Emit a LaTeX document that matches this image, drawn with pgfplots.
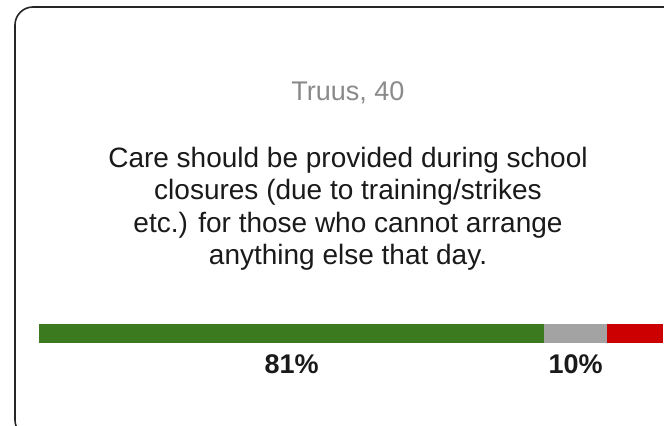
\documentclass[border=0pt]{standalone}
\usepackage{pgfplots}
\pgfplotsset{compat=1.18}
\usepackage{fontspec}
\setmainfont{Liberation Sans}
\definecolor{cgreen}{HTML}{3B7A1F}
\definecolor{cgray}{HTML}{A3A3A3}
\definecolor{cred}{HTML}{CC0000}
\definecolor{ctitle}{HTML}{8A8A8A}
\definecolor{ctext}{HTML}{1A1A1A}
\definecolor{cborder}{HTML}{262626}
\begin{document}
\begin{tikzpicture}[x=1bp,y=1bp]
\useasboundingbox (0,0) rectangle (664,425);
\clip (0,0) rectangle (664,425);
\fill[white] (0,0) rectangle (664,425);
\draw[line width=1.6bp, cborder, rounded corners=18bp] (15,418) rectangle (700,-13);
% title and statement
\node[anchor=base, inner sep=0pt, text=ctitle, font=\fontsize{27bp}{30bp}\selectfont] at (348,325) {Truus, 40};
\begin{scope}[every node/.style={anchor=base, inner sep=0pt, text=ctext, font=\fontsize{28bp}{32bp}\selectfont}]
\node at (348,258) {Care should be provided during school};
\node at (348,225.5) {closures (due to training/strikes};
\node at (348,193) {etc.) for those who cannot arrange};
\node at (348,160.5) {anything else that day.};
\end{scope}
\begin{axis}[
  at={(39bp,82bp)}, anchor=south west,
  scale only axis, width=624bp, height=19bp,
  xmin=0, xmax=100, ymin=-0.5, ymax=0.5,
  xbar stacked, bar width=19bp,
  axis lines=none, clip=false,
  ticks=none,
]
\addplot[fill=cgreen, draw=none] coordinates {(81,0)};
\addplot[fill=cgray, draw=none] coordinates {(10,0)};
\addplot[fill=cred, draw=none] coordinates {(9,0)};
\node[anchor=base, inner sep=0pt, text=ctext, font=\bfseries\fontsize{27bp}{30bp}\selectfont] at ([yshift=-30bp]axis cs:40.5,-0.5) {81\%};
\node[anchor=base, inner sep=0pt, text=ctext, font=\bfseries\fontsize{27bp}{30bp}\selectfont] at ([yshift=-30bp]axis cs:86,-0.5) {10\%};
\end{axis}
\end{tikzpicture}
\end{document}
